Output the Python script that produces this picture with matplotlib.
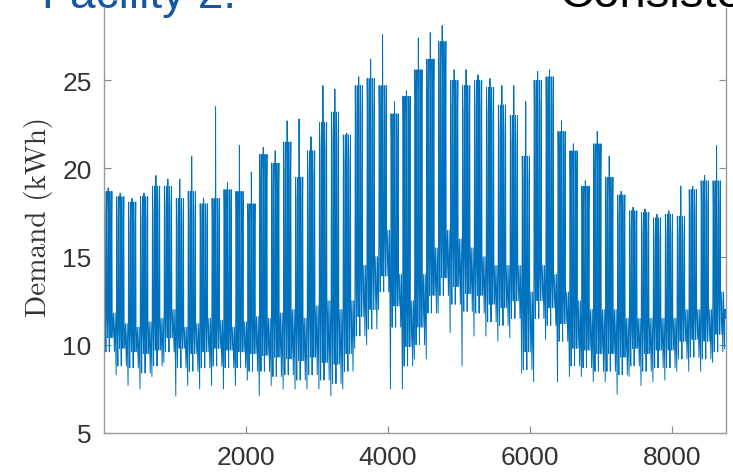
import matplotlib.pyplot as plt

# weekly readings (kWh) off the hourly demand plot, 53 weeks (last one is a single day)
peak = [18.7, 18.4, 18.1, 18.4, 19.0, 19.0, 18.3, 18.7, 18.0, 18.3, 18.8, 18.7, 18.0,
        20.8, 20.3, 21.5, 19.5, 21.0, 22.6, 23.2, 21.9, 24.7, 25.1, 24.7, 23.1, 24.1,
        25.6, 26.2, 27.2, 25.0, 24.7, 25.0, 24.6, 23.6, 23.0, 20.7, 25.0, 25.2, 22.1,
        21.0, 19.0, 21.4, 19.5, 18.5, 17.6, 17.5, 17.2, 17.4, 17.3, 18.8, 19.3, 19.3, 12.0]
peak2 = [17.2, 17.0, 16.8, 17.0, 17.6, 17.8, 17.0, 17.3, 16.8, 17.0, 17.4, 17.2, 16.9,
         19.3, 18.8, 19.8, 18.2, 19.6, 21.0, 21.5, 20.3, 23.0, 23.4, 23.2, 21.6, 22.5,
         24.0, 24.5, 25.6, 23.5, 23.2, 23.5, 23.0, 22.0, 21.5, 19.3, 23.4, 23.5, 20.6,
         19.5, 17.7, 19.9, 18.1, 17.2, 16.4, 16.3, 16.0, 16.2, 16.1, 17.5, 18.0, 18.0, 11.5]
spike = [18.9, 18.6, 18.3, 18.6, 19.6, 19.4, 19.4, 20.7, 18.3, 23.5, 19.2, 21.3, 19.8,
         21.2, 21.0, 22.7, 22.8, 21.8, 24.7, 24.5, 22.0, 25.2, 26.2, 27.6, 23.8, 24.4,
         27.4, 27.7, 28.1, 25.6, 25.6, 25.3, 25.1, 24.7, 24.7, 23.8, 25.5, 25.6, 22.7,
         21.4, 19.3, 22.1, 20.7, 18.7, 17.8, 17.7, 17.4, 17.6, 19.0, 19.0, 19.6, 21.3, 12.5]
base = [9.6, 8.8, 8.7, 8.4, 8.8, 9.6, 8.7, 8.5, 8.7, 8.8, 8.7, 8.7, 8.5,
        8.5, 8.2, 8.3, 8.0, 8.3, 8.0, 7.8, 8.5, 10.5, 10.9, 13.0, 11.0, 8.8,
        10.0, 11.8, 12.8, 12.3, 11.9, 11.8, 11.3, 11.1, 11.5, 8.6, 11.5, 11.1, 10.2,
        8.8, 8.7, 8.5, 8.5, 8.3, 8.8, 8.5, 8.7, 8.7, 9.2, 9.3, 9.2, 9.6, 10.5]
base2 = [10.4, 9.8, 9.6, 9.5, 9.7, 10.4, 9.8, 9.5, 9.6, 9.8, 9.7, 9.6, 9.5,
         9.4, 9.3, 9.2, 9.1, 9.3, 9.0, 8.9, 9.5, 11.6, 12.0, 13.9, 12.2, 9.9,
         11.0, 12.8, 13.8, 13.3, 12.9, 12.8, 12.3, 12.1, 12.5, 9.6, 12.5, 12.1, 11.2,
         9.8, 9.7, 9.5, 9.5, 9.3, 9.8, 9.5, 9.7, 9.7, 10.2, 10.3, 10.2, 10.6, 11.0]
dip = [7.3, 8.3, 7.7, 7.5, 8.2, 9.0, 7.1, 7.7, 7.5, 7.7, 7.5, 7.7, 8.0,
       7.1, 7.7, 7.5, 7.5, 7.5, 7.5, 7.1, 7.5, 9.8, 10.0, 12.0, 7.5, 7.5,
       9.2, 9.2, 11.8, 10.7, 8.8, 10.5, 10.5, 10.2, 10.4, 8.4, 7.9, 10.3, 7.9,
       8.2, 8.2, 7.9, 7.9, 7.2, 8.2, 7.7, 7.9, 8.0, 8.5, 8.5, 8.5, 9.0, 9.8]
wkend = [11.8, 11.2, 11.0, 11.3, 11.5, 12.0, 11.0, 11.2, 11.5, 11.4, 11.0, 11.3, 11.6,
         11.5, 11.8, 12.0, 11.5, 12.2, 12.5, 12.0, 12.5, 14.5, 15.0, 16.5, 14.0, 12.5,
         14.0, 15.5, 16.5, 16.0, 15.5, 15.0, 14.5, 14.5, 14.5, 13.0, 14.5, 14.0, 13.0,
         12.5, 12.0, 12.0, 12.0, 11.5, 11.5, 11.5, 11.5, 11.5, 12.0, 12.0, 12.0, 13.0, 12.0]

hours = []
demand = []
for w in range(len(peak)):
    ndays = 7 if w < 52 else 1
    lows = [dip[w], base[w], base2[w], base[w], base2[w]]
    highs = [(peak[w], peak2[w]), (peak2[w], peak[w]), (spike[w], peak2[w]),
             (peak[w], peak2[w]), (peak2[w], peak[w])]
    for d in range(ndays):
        t0 = w * 168 + d * 24
        if d < 5:
            hours += [t0 + 3, t0 + 7, t0 + 11, t0 + 15, t0 + 19]
            demand += [lows[d], wkend[w], highs[d][0], highs[d][1], wkend[w]]
        else:
            hours += [t0 + 3, t0 + 13]
            demand += [base2[w] if d == 5 else base[w], wkend[w]]

fig = plt.figure(figsize=(7.33, 4.77), dpi=100)
ax = fig.add_axes([104 / 733, 43 / 477, 622 / 733, 425 / 477])
ax.plot(hours, demand, color='#0072BD', lw=0.7)

ax.set_xlim(0, 8760)
ax.set_ylim(5, 29.1)
ax.set_xticks([2000, 4000, 6000, 8000])
ax.set_yticks([5, 10, 15, 20, 25])
ax.tick_params(direction='in', length=5, width=0.8, color='#888888', right=True,
               labelsize=19, labelcolor='#333333')
ax.tick_params(axis='x', pad=9)
ax.tick_params(axis='y', pad=9)
for lbl in ax.get_xticklabels() + ax.get_yticklabels():
    lbl.set_family('Liberation Sans')
ax.spines['top'].set_visible(False)
for s in ['left', 'right', 'bottom']:
    ax.spines[s].set_color('#999999')
    ax.spines[s].set_linewidth(1.0)

ax.set_ylabel('Demand (kWh)', family='cmr10', fontsize=21, color='#333333')
ax.yaxis.set_label_coords(-0.082, 0.51)

# heading text, cut off by the top edge as in the source screenshot
fig.text(42 / 733, 469 / 477, 'Facility 2:', family='Liberation Sans', fontsize=33,
         color='#1457A8', va='baseline')
fig.text(560 / 733, 470 / 477, 'Consistent', family='Liberation Sans', fontsize=34,
         color='black', va='baseline')

plt.savefig('out.png', dpi=100)
